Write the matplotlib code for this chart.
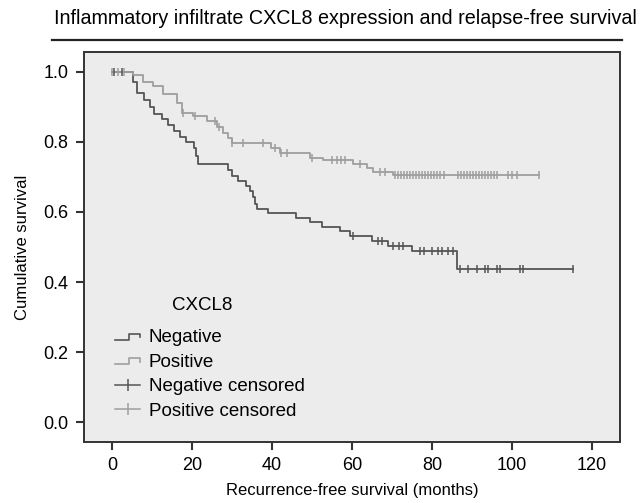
import matplotlib
matplotlib.use("Agg")
import matplotlib.pyplot as plt
import numpy as np
from matplotlib.lines import Line2D
from matplotlib.legend_handler import HandlerBase

plt.rcParams['font.family'] = ['Liberation Sans', 'DejaVu Sans']

# Kaplan-Meier step points (months, cumulative survival)
neg_t = [0, 5.25, 6.25, 8, 9.5, 10.5, 12.5, 14, 15.5, 17, 18.5, 20.5, 21, 21.5,
         29, 30, 31.5, 33.5, 34.5, 35.25, 35.75, 36.25, 39, 46, 49.5, 52.5, 57,
         59.5, 65, 69, 75, 86.25, 115.25]
neg_s = [1.0, 0.97, 0.94, 0.92, 0.90, 0.88, 0.866, 0.849, 0.83, 0.814, 0.80, 0.783,
         0.76, 0.737, 0.72, 0.703, 0.689, 0.674, 0.66, 0.643, 0.623, 0.609, 0.597,
         0.583, 0.571, 0.557, 0.546, 0.531, 0.517, 0.503, 0.489, 0.437, 0.437]

pos_t = [0, 5.25, 7.75, 10.25, 12.75, 16.25, 17.5, 20.25, 23.75, 26.25, 27.75, 29,
         30, 39.75, 42, 49.5, 52.75, 60.25, 63.75, 65.25, 70.25, 106.75]
pos_s = [1.0, 0.991, 0.971, 0.96, 0.937, 0.911, 0.883, 0.874, 0.86, 0.843, 0.826,
         0.811, 0.797, 0.783, 0.769, 0.754, 0.749, 0.737, 0.726, 0.714, 0.706, 0.706]

# censored observations (months)
neg_cens = [0.5, 2.5, 60.25, 66.5, 67.5, 70.25, 71.75, 72.75, 77, 78, 80, 81.5, 82.5,
            84, 85.25, 87, 89, 91.25, 93.25, 94, 96.25, 97, 102, 102.75, 115.25]
pos_cens = [0, 1.5, 3, 17.75, 20.75, 25.75, 26.75, 30, 32.75, 37.75, 40.75, 42.25,
            43.75, 50, 55, 56.25, 57.25, 58.25, 62, 67, 68.25, 70.75, 71.5, 72.25, 73,
            73.75, 74.5, 75.25, 76, 76.75, 77.5, 78.25, 79, 79.75, 80.5, 81.25, 82,
            83, 86.5, 87.25, 88, 88.75, 89.5, 90.25, 91, 91.75, 92.5, 93.25, 94,
            94.75, 95.5, 96.25, 99, 100, 101.25, 106.75]

neg_col = "#555555"
pos_col = "#9e9e9e"


def surv_at(times, t_steps, s_steps):
    idx = np.searchsorted(t_steps, times, side="right") - 1
    return np.array(s_steps)[idx]


class StepHandler(HandlerBase):
    def create_artists(self, legend, orig_handle, xdescent, ydescent, width, height,
                       fontsize, trans):
        x0, y0 = -xdescent, -ydescent
        xs = [x0, x0 + 0.55 * width, x0 + 0.55 * width, x0 + width, x0 + width]
        ys = [y0 + 0.2 * height, y0 + 0.2 * height, y0 + 0.65 * height,
              y0 + 0.65 * height, y0 + 0.4 * height]
        ln = Line2D(xs, ys, color=orig_handle.get_color(), lw=1.2)
        ln.set_transform(trans)
        return [ln]


fig = plt.figure(figsize=(6.44, 5.03), dpi=100)
ax = fig.add_axes([84 / 644, 1 - 442 / 503, 536 / 644, 390 / 503])
ax.set_facecolor("#ececec")

ax.step(neg_t, neg_s, where="post", color=neg_col, lw=1.3)
ax.step(pos_t, pos_s, where="post", color=pos_col, lw=1.3)
ax.plot(neg_cens, surv_at(neg_cens, neg_t, neg_s), ls="none", marker="|",
        ms=5.5, mew=1.1, color=neg_col)
ax.plot(pos_cens, surv_at(pos_cens, pos_t, pos_s), ls="none", marker="|",
        ms=5.5, mew=1.1, color=pos_col)

ax.set_xlim(-7, 127)
ax.set_ylim(-0.057, 1.057)
ax.set_xticks([0, 20, 40, 60, 80, 100, 120])
ax.set_yticks([0.0, 0.2, 0.4, 0.6, 0.8, 1.0])
ax.set_yticklabels(["0.0", "0.2", "0.4", "0.6", "0.8", "1.0"])
for sp in ax.spines.values():
    sp.set_color("#333333")
    sp.set_linewidth(1.4)
ax.tick_params(direction="out", length=6, width=1.5, color="#333333",
               labelsize=13, pad=5)
ax.set_xlabel("Recurrence-free survival (months)", fontsize=12, labelpad=6)
ax.set_ylabel("Cumulative survival", fontsize=12, labelpad=10)

handles = [Line2D([], [], color=neg_col), Line2D([], [], color=pos_col),
           Line2D([], [], color=neg_col, marker="|", ms=9, mew=1.1, lw=1.1),
           Line2D([], [], color=pos_col, marker="|", ms=9, mew=1.1, lw=1.1)]
labels = ["Negative", "Positive", "Negative censored", "Positive censored"]
fig.text(202 / 644, 1 - 306 / 503, "CXCL8", ha="center", va="center", fontsize=13.5)
leg = ax.legend(handles, labels, loc="upper left",
                bbox_to_anchor=(115 / 644, 1 - 329 / 503),
                bbox_transform=fig.transFigure, frameon=False, fontsize=13.5,
                handlelength=1.35, handletextpad=0.45,
                labelspacing=0.4, borderpad=0, borderaxespad=0,
                handler_map={handles[0]: StepHandler(), handles[1]: StepHandler()})

fig.text(345 / 644, 1 - 18 / 503, "Inflammatory infiltrate CXCL8 expression and relapse-free survival",
         ha="center", va="center", fontsize=14.2)
fig.add_artist(Line2D([52 / 644, 622 / 644], [1 - 40 / 503, 1 - 40 / 503],
                      transform=fig.transFigure, color="#222222", lw=1.6))

fig.savefig("out.png", dpi=100)
